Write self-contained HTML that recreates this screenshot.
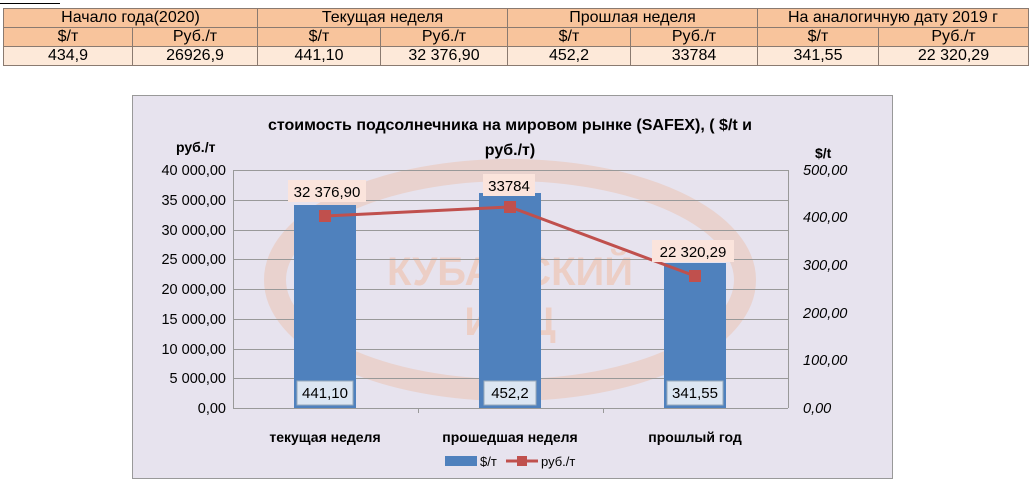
<!DOCTYPE html><html><head><meta charset="utf-8"><style>
body{margin:0;width:1030px;height:480px;background:#fff;font-family:"Liberation Sans","DejaVu Sans",sans-serif;position:relative;overflow:hidden}
table{position:absolute;left:3px;top:8px;border-collapse:collapse;font-size:16px;color:#000}
td{border:1px solid #8a7a70;text-align:center;height:18px;padding:0;line-height:18px}
.h td{background:#f8c49c}.v td{background:#fde9d9}
</style></head><body>
<div style="position:absolute;left:0;top:0;width:60px;height:3px;border-bottom:1px solid #000"></div>
<table>
<tr class="h"><td colspan="2" style="width:253px">Начало года(2020)</td><td colspan="2" style="width:249px">Текущая неделя</td><td colspan="2" style="width:249px">Прошлая неделя</td><td colspan="2" style="width:270px">На аналогичную дату 2019 г</td></tr>
<tr class="h"><td style="width:128px">$/т</td><td>Руб./т</td><td style="width:122px">$/т</td><td>Руб./т</td><td style="width:122px">$/т</td><td>Руб./т</td><td style="width:120px">$/т</td><td>Руб./т</td></tr>
<tr class="v"><td>434,9</td><td>26926,9</td><td>441,10</td><td>32 376,90</td><td>452,2</td><td>33784</td><td>341,55</td><td>22 320,29</td></tr>
</table>
<svg style="position:absolute;left:0;top:0" width="1030" height="480" font-family="Liberation Sans, DejaVu Sans, sans-serif">
<rect x="132.5" y="95.5" width="760" height="383" fill="#e7e3ee" stroke="#999"/>
<g opacity="0.25" fill="none" stroke="#f0a070" stroke-width="22">
<ellipse cx="510" cy="280" rx="235" ry="110"/>
</g>
<text x="510" y="285" text-anchor="middle" font-size="40" font-weight="bold" fill="#f4b08a" opacity="0.4">КУБАНСКИЙ</text>
<text x="510" y="335" text-anchor="middle" font-size="40" font-weight="bold" fill="#f4b08a" opacity="0.4">ИМЦ</text>
<g stroke="#999" stroke-width="1">
<line x1="233" y1="170.5" x2="788" y2="170.5"/><line x1="233" y1="200.5" x2="788" y2="200.5"/>
<line x1="233" y1="230.5" x2="788" y2="230.5"/><line x1="233" y1="259.5" x2="788" y2="259.5"/>
<line x1="233" y1="289.5" x2="788" y2="289.5"/><line x1="233" y1="319.5" x2="788" y2="319.5"/>
<line x1="233" y1="349.5" x2="788" y2="349.5"/><line x1="233" y1="378.5" x2="788" y2="378.5"/>
<line x1="233" y1="408.5" x2="788" y2="408.5"/>
<line x1="233.5" y1="170" x2="233.5" y2="408"/><line x1="788.5" y1="170" x2="788.5" y2="408"/>
<line x1="418.5" y1="408" x2="418.5" y2="413"/><line x1="603.5" y1="408" x2="603.5" y2="413"/>
</g>
<g fill="#4f81bd"><rect x="294" y="205" width="62" height="203"/><rect x="479" y="193" width="62" height="215"/><rect x="664" y="263" width="62" height="145"/></g>
<polyline points="325,216 510,207 695,276" fill="none" stroke="#c0504d" stroke-width="3"/>
<g fill="#c0504d"><rect x="319" y="210" width="12" height="12"/><rect x="504" y="201" width="12" height="12"/><rect x="689" y="270" width="12" height="12"/></g>
<g fill="#fbe4dc"><rect x="288" y="180" width="78" height="22"/><rect x="483" y="174" width="52" height="22"/><rect x="652" y="240" width="82" height="22"/></g>
<g fill="#dce6f2" stroke="#9ab"><rect x="297" y="381" width="56" height="24"/><rect x="484" y="381" width="52" height="24"/><rect x="667" y="381" width="56" height="24"/></g>
<g font-size="15" fill="#000" text-anchor="middle"><text x="327" y="197">32 376,90</text><text x="509" y="191">33784</text><text x="693" y="257">22 320,29</text>
<text x="325" y="398">441,10</text><text x="510" y="398">452,2</text><text x="695" y="398">341,55</text></g>
<g font-size="14.5" fill="#000" text-anchor="end">
<text x="226" y="175">40 000,00</text><text x="226" y="205">35 000,00</text><text x="226" y="235">30 000,00</text><text x="226" y="264">25 000,00</text><text x="226" y="294">20 000,00</text><text x="226" y="324">15 000,00</text><text x="226" y="354">10 000,00</text><text x="226" y="383">5 000,00</text><text x="226" y="413">0,00</text></g>
<g font-size="14.5" fill="#000" font-style="italic">
<text x="803" y="175">500,00</text><text x="803" y="222">400,00</text><text x="803" y="270">300,00</text><text x="803" y="318">200,00</text><text x="803" y="365">100,00</text><text x="803" y="413">0,00</text></g>
<g font-size="14" font-weight="bold" fill="#000">
<text x="510" y="130" text-anchor="middle" font-size="16">стоимость подсолнечника на мировом рынке (SAFEX), ( $/t и</text>
<text x="510" y="155" text-anchor="middle" font-size="16">руб./т)</text>
<text x="176" y="152">руб./т</text><text x="815" y="158">$/t</text>
<text x="325" y="442" text-anchor="middle">текущая неделя</text><text x="510" y="442" text-anchor="middle">прошедшая неделя</text><text x="695" y="442" text-anchor="middle">прошлый год</text></g>
<rect x="445" y="456" width="32" height="10" fill="#4f81bd"/><text x="480" y="466" font-size="13">$/т</text>
<line x1="506" y1="461" x2="538" y2="461" stroke="#c0504d" stroke-width="3"/><rect x="517" y="456" width="10" height="10" fill="#c0504d"/><text x="541" y="466" font-size="13">руб./т</text>
</svg>
</body></html>
